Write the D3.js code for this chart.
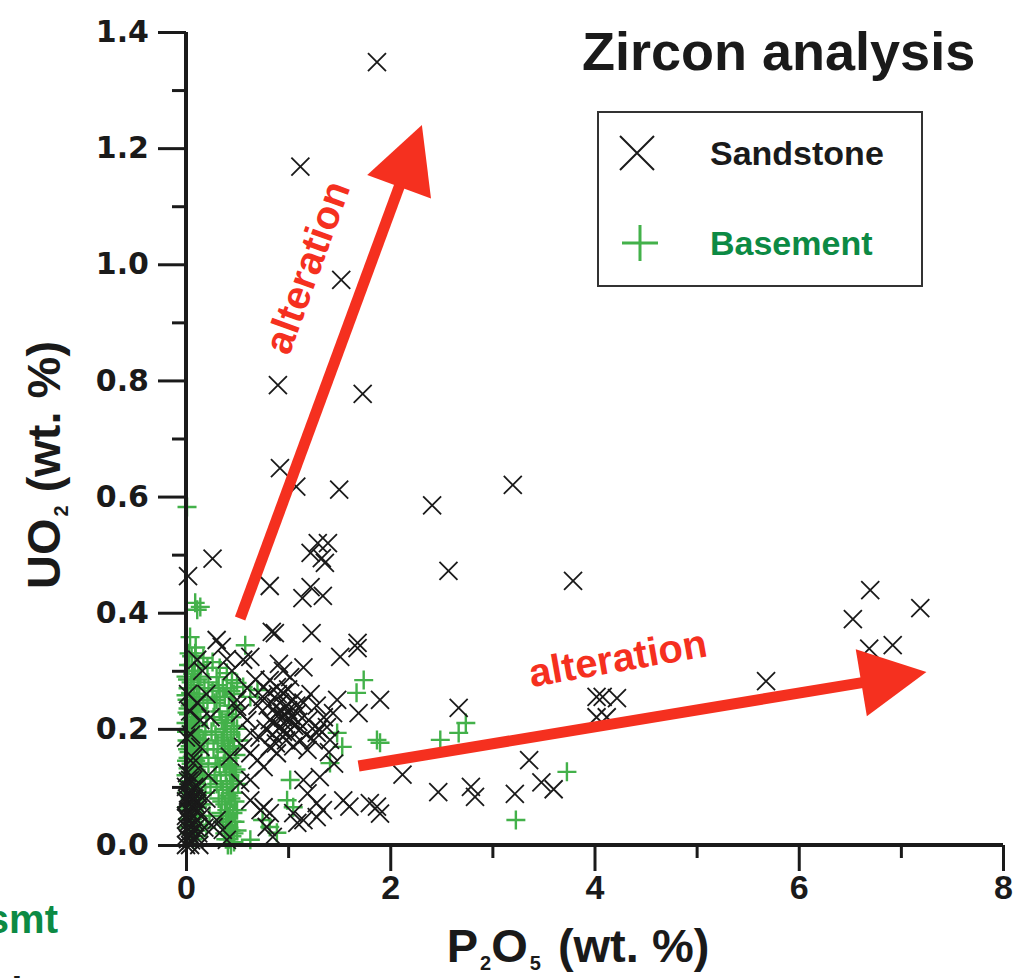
<!DOCTYPE html>
<html>
<head>
<meta charset="utf-8">
<script src="https://cdn.jsdelivr.net/npm/d3@7"></script>
<style>
  body { margin: 0; background: #fff; overflow: hidden; }
  svg text { font-family: "Liberation Sans", Arial, Helvetica, sans-serif; font-weight: bold; }
</style>
</head>
<body>
<div id="chart"></div>
<script>
// tick values
var xTicks = [0, 2, 4, 6, 8];
var xMinor = [1, 3, 5, 7];
var yTicks = [0, 0.2, 0.4, 0.6, 0.8, 1.0, 1.2, 1.4];
var yMinor = [0.1, 0.3, 0.5, 0.7, 0.9, 1.1, 1.3];

// series names
var seriesNames = ['Sandstone', 'Basement'];

// Sandstone zircons [P2O5, UO2]
var sandstone = [
  [1.87,1.348],[1.12,1.168],[1.52,0.973],[0.90,0.792],[1.73,0.777],[0.92,0.649],[1.08,0.617],[1.50,0.612],
  [2.41,0.585],[3.20,0.620],[2.57,0.472],[3.79,0.455],[0.02,0.463],[0.26,0.493],
  [1.29,0.520],[1.39,0.520],[1.22,0.503],[1.36,0.486],[1.33,0.494],[1.22,0.444],[1.14,0.425],[1.34,0.429],
  [0.82,0.446],[0.84,0.367],[0.87,0.365],[1.23,0.365],[1.68,0.348],[1.51,0.324],[1.68,0.339],
  [6.70,0.439],[7.19,0.408],[6.53,0.389],[6.69,0.338],[6.92,0.344],[5.68,0.282],
  [4.02,0.255],[4.08,0.255],[4.22,0.253],[4.02,0.220],[4.12,0.220],[2.67,0.236],[3.36,0.146],
  [2.12,0.121],[2.47,0.091],[2.79,0.100],[2.83,0.083],[3.22,0.088],[3.48,0.108],[3.60,0.096],
  [1.48,0.250],[1.44,0.227],[1.69,0.227],[1.90,0.250],[1.31,0.117],[1.54,0.077],[1.60,0.066],
  [1.80,0.072],[1.87,0.066],[1.90,0.054],[1.38,0.203],[1.28,0.193],[1.19,0.164],[1.41,0.181],
  [1.28,0.048],[1.09,0.038],[1.34,0.060],[1.28,0.072],[1.15,0.043],[1.05,0.055],
  [0.30,0.353],[0.35,0.341],[0.56,0.319],[0.63,0.324],[0.91,0.312],[0.95,0.300],[1.02,0.289],[1.15,0.306],
  [0.82,0.284],[0.89,0.272],[0.95,0.262],[0.82,0.262],[0.76,0.272],[0.89,0.227],[0.95,0.220],[1.02,0.215],
  [1.09,0.227],[0.82,0.215],[0.92,0.203],[0.99,0.193],[0.53,0.227],[0.60,0.215],[0.56,0.169],[0.63,0.158],
  [0.70,0.146],[0.76,0.134],[0.82,0.169],[0.89,0.158],[0.63,0.112],[1.15,0.112],[1.19,0.089],[0.76,0.065],
  [0.82,0.055],[0.92,0.245],[0.98,0.240],[1.05,0.250],[1.00,0.232],[0.88,0.238],[0.96,0.210],[1.06,0.205],
  [1.12,0.200],[1.18,0.190],[1.25,0.180],[1.30,0.200],[1.20,0.215],[1.12,0.180],[1.05,0.170],[0.98,0.180],
  [0.85,0.190],[0.78,0.200],[0.72,0.185],[0.70,0.240],[0.75,0.255],[1.28,0.240],[1.35,0.220],[1.40,0.160],
  [1.45,0.140],[0.68,0.285],[0.60,0.270],[0.45,0.300],[0.40,0.320],[0.50,0.250],[0.50,0.238],[0.63,0.193],
  [0.43,0.152],[0.53,0.107],[0.63,0.077],[0.73,0.060],[0.79,0.031],[0.85,0.014],[0.11,0.319],[0.14,0.169],
  [0.07,0.141],[0.11,0.077],[0.30,0.043],[0.36,0.026],[0.27,0.031],[0.40,0.009],[0.14,0.215],
  [0.90,0.260],[1.00,0.268],[1.08,0.240],[0.94,0.230],[1.03,0.222],[0.86,0.210],[1.10,0.212],[1.15,0.245],
  [0.80,0.240],[1.22,0.260],[0.95,0.195],[0.88,0.175],
  [0.00,0.000],[0.02,0.010],[0.04,0.000],[0.06,0.020],[0.01,0.030],[0.03,0.040],[0.05,0.030],[0.08,0.010],
  [0.00,0.050],[0.02,0.060],[0.04,0.070],[0.07,0.050],[0.09,0.040],[0.01,0.080],[0.03,0.090],[0.06,0.080],
  [0.10,0.070],[0.00,0.100],[0.02,0.110],[0.05,0.120],[0.08,0.100],[0.12,0.020],[0.11,0.090],[0.07,0.150],
  [0.05,0.190],[0.04,0.230],[0.15,0.050],[0.18,0.030],[0.13,0.000],[0.20,0.080],[0.22,0.120],[0.02,0.260],
  [0.11,0.245],[0.01,0.124],[0.04,0.112],[0.11,0.100],[0.16,0.300],[0.20,0.260],[0.24,0.220],[0.00,0.185],
  [0.00,0.015],[0.03,0.020],[0.05,0.008],[0.07,0.035],[0.01,0.045],[0.04,0.055],[0.06,0.065],[0.09,0.060],
  [0.02,0.085],[0.05,0.095],[0.08,0.080],[0.03,0.070],[0.00,0.075],[0.10,0.030],[0.12,0.060],[0.06,0.110]
];

// Basement zircons [P2O5, UO2]
var basement = [
  [0.01,0.582],[0.09,0.417],[0.14,0.410],[0.11,0.405],[0.04,0.358],[0.58,0.344],[0.09,0.330],
  [1.74,0.284],[1.67,0.262],[1.87,0.181],[1.90,0.176],[2.49,0.181],[2.67,0.193],[2.74,0.210],
  [1.48,0.193],[1.53,0.169],[1.41,0.141],[1.02,0.112],[0.99,0.077],[1.05,0.065],[0.75,0.043],
  [0.82,0.031],[0.89,0.021],[0.63,0.009],[3.73,0.126],[3.23,0.043],
  [0.17,0.322],[0.26,0.315],[0.21,0.305],[0.33,0.305],[0.30,0.289],[0.40,0.296],[0.45,0.284],
  [0.50,0.279],[0.56,0.272],[0.63,0.255],[0.70,0.267],
  [0.00,0.290],[0.02,0.270],[0.05,0.280],[0.08,0.260],[0.01,0.250],[0.04,0.240],[0.07,0.230],[0.10,0.220],
  [0.00,0.210],[0.03,0.200],[0.06,0.190],[0.09,0.210],[0.12,0.190],[0.01,0.180],[0.04,0.170],[0.07,0.160],
  [0.10,0.170],[0.02,0.150],[0.05,0.140],[0.08,0.130],[0.11,0.140],[0.00,0.120],[0.03,0.110],[0.06,0.100],
  [0.09,0.110],[0.12,0.100],[0.01,0.090],[0.04,0.080],[0.07,0.070],[0.10,0.080],[0.02,0.060],[0.05,0.050],
  [0.08,0.040],[0.11,0.050],[0.01,0.030],[0.04,0.020],[0.07,0.010],[0.13,0.260],[0.14,0.230],[0.15,0.150],
  [0.14,0.070],[0.06,0.310],[0.03,0.330],[0.02,0.235],[0.06,0.215],[0.03,0.160],[0.09,0.185],[0.12,0.160],
  [0.015,0.285],[0.045,0.262],[0.075,0.275],[0.105,0.255],[0.025,0.225],[0.055,0.245],[0.085,0.205],
  [0.115,0.235],[0.035,0.195],[0.065,0.175],[0.095,0.145],[0.125,0.205],[0.015,0.165],[0.045,0.125],
  [0.075,0.115],[0.105,0.125],[0.025,0.105],[0.055,0.085],[0.085,0.095],[0.115,0.065],[0.035,0.065],
  [0.065,0.045],[0.095,0.025],[0.125,0.035],[0.015,0.045],[0.045,0.035],[0.075,0.030],[0.105,0.015],
  [0.135,0.175],[0.135,0.115],[0.005,0.195],[0.005,0.145],[0.005,0.065],[0.085,0.300],[0.115,0.285],
  [0.025,0.310],[0.055,0.325],[0.095,0.340],[0.120,0.310],[0.140,0.290],
  [0.010,0.228],[0.050,0.205],[0.090,0.238],[0.030,0.178],[0.070,0.198],[0.110,0.182],[0.020,0.132],
  [0.060,0.152],[0.100,0.106],[0.040,0.096],[0.080,0.148],[0.120,0.135],[0.000,0.258],[0.065,0.295],
  [0.18,0.270],[0.20,0.220],[0.17,0.180],[0.22,0.140],[0.19,0.090],[0.23,0.050],[0.21,0.250],[0.16,0.120],
  [0.17,0.245],[0.19,0.195],[0.21,0.165],[0.18,0.115],[0.20,0.030],[0.16,0.070],[0.24,0.100],[0.22,0.280],
  [0.30,0.250],[0.36,0.270],[0.42,0.240],[0.47,0.260],[0.27,0.220],[0.33,0.230],[0.39,0.210],[0.45,0.220],
  [0.50,0.200],[0.29,0.190],[0.35,0.180],[0.41,0.170],[0.47,0.180],[0.31,0.150],[0.37,0.140],[0.43,0.150],
  [0.49,0.130],[0.28,0.120],[0.34,0.110],[0.40,0.100],[0.46,0.110],[0.32,0.080],[0.38,0.070],[0.44,0.080],
  [0.50,0.060],[0.36,0.040],[0.42,0.030],[0.47,0.020],[0.39,0.010],[0.44,0.000],[0.41,0.050],[0.45,0.040],
  [0.43,0.120],[0.38,0.160],[0.44,0.190],[0.40,0.060],[0.46,0.090],[0.42,0.010],[0.48,0.040],[0.37,0.200],
  [0.26,0.265],[0.32,0.275],[0.38,0.255],[0.44,0.265],[0.49,0.235],[0.28,0.245],[0.35,0.215],[0.41,0.225],
  [0.47,0.205],[0.25,0.195],[0.31,0.175],[0.37,0.185],[0.43,0.165],[0.49,0.155],[0.27,0.165],[0.33,0.135],
  [0.39,0.125],[0.45,0.135],[0.51,0.105],[0.30,0.105],[0.36,0.095],[0.42,0.085],[0.48,0.075],[0.34,0.055],
  [0.40,0.035],[0.46,0.055],[0.50,0.025],[0.38,0.020],[0.44,0.025],[0.41,0.000],[0.47,0.005],[0.35,0.075],
  [0.29,0.140],[0.52,0.180],[0.40,0.270],[0.46,0.240],[0.33,0.255],
  [0.43,0.060],[0.39,0.045],[0.45,0.015],[0.41,0.145],[0.47,0.125],[0.44,0.105],[0.40,0.195],[0.46,0.170]
];

// alteration arrows, in data units
var arrows = [
  { from: [0.53, 0.390], to: [2.31, 1.240] },
  { from: [1.69, 0.136], to: [7.25, 0.298] }
];
var arrowLabels = [
  { text: 'alteration', at: [1.20, 0.994], angle: -70 },
  { text: 'alteration', at: [4.23, 0.319], angle: -10 }
];

var W = 1015, H = 978;
var ink = '#1a1a1a', red = '#f5301f', green = '#43b14a', darkGreen = '#0c8a44';

var svg = d3.select('#chart').append('svg')
  .attr('width', W)
  .attr('height', H);

var x = d3.scaleLinear().domain([0, 8]).range([186, 1003]);
var y = d3.scaleLinear().domain([0, 1.4]).range([845, 32]);

// basement first, sandstone drawn over it
var crossPath = 'M-9,-9L9,9M-9,9L9,-9';
var plusPath = 'M-9.5,0H9.5M0,-9.5V9.5';

svg.append('g').selectAll('path')
  .data(basement)
  .enter()
  .append('path')
  .attr('d', plusPath)
  .attr('transform', function(d) { return 'translate(' + x(d[0]) + ',' + y(d[1]) + ')'; })
  .attr('fill', 'none')
  .attr('stroke', green)
  .attr('stroke-width', 2.4);

svg.append('g').selectAll('path')
  .data(sandstone)
  .enter()
  .append('path')
  .attr('d', crossPath)
  .attr('transform', function(d) { return 'translate(' + x(d[0]) + ',' + y(d[1]) + ')'; })
  .attr('fill', 'none')
  .attr('stroke', ink)
  .attr('stroke-width', 1.8);

// axes
function styleAxis(g) {
  g.select('.domain').remove();
  g.selectAll('line').attr('stroke', ink).attr('stroke-width', 3);
  g.selectAll('text').attr('fill', ink);
}

svg.append('g')
  .attr('transform', 'translate(186,0)')
  .call(d3.axisLeft(y).tickValues(yTicks).tickSize(28).tickPadding(9).tickFormat(d3.format('.1f')))
  .call(styleAxis)
  .selectAll('text')
  .style('font-family', '"DejaVu Sans", sans-serif')
  .style('font-size', '30px');
svg.append('g')
  .attr('transform', 'translate(186,0)')
  .call(d3.axisLeft(y).tickValues(yMinor).tickSize(14).tickFormat(''))
  .call(styleAxis);
svg.append('g')
  .attr('transform', 'translate(0,845)')
  .call(d3.axisBottom(x).tickValues(xTicks).tickSize(26).tickPadding(4).tickFormat(d3.format('d')))
  .call(styleAxis)
  .selectAll('text')
  .style('font-size', '34px');
svg.append('g')
  .attr('transform', 'translate(0,845)')
  .call(d3.axisBottom(x).tickValues(xMinor).tickSize(13).tickFormat(''))
  .call(styleAxis);

// axis lines
svg.append('path')
  .attr('d', 'M' + x(0) + ',' + y(1.4) + 'V' + y(0) + 'H' + x(8))
  .attr('fill', 'none')
  .attr('stroke', ink)
  .attr('stroke-width', 4);

// arrows
arrows.forEach(function(a) {
  var x0 = x(a.from[0]), y0 = y(a.from[1]);
  var x1 = x(a.to[0]), y1 = y(a.to[1]);
  var len = Math.hypot(x1 - x0, y1 - y0);
  var ux = (x1 - x0) / len, uy = (y1 - y0) / len;
  var hl = 66, hw = 34;
  var bx = x1 - ux * hl, by = y1 - uy * hl;
  svg.append('line')
    .attr('x1', x0).attr('y1', y0)
    .attr('x2', bx + ux * 4).attr('y2', by + uy * 4)
    .attr('stroke', red)
    .attr('stroke-width', 11);
  svg.append('polygon')
    .attr('points', [[x1, y1], [bx - uy * hw, by + ux * hw], [bx + uy * hw, by - ux * hw]].join(' '))
    .attr('fill', red);
});

svg.selectAll('.alt-label')
  .data(arrowLabels)
  .enter()
  .append('text')
  .attr('class', 'alt-label')
  .attr('transform', function(d) { return 'translate(' + x(d.at[0]) + ',' + y(d.at[1]) + ') rotate(' + d.angle + ')'; })
  .attr('text-anchor', 'middle')
  .attr('dy', '0.3em')
  .attr('fill', red)
  .style('font-size', '40px')
  .text(function(d) { return d.text; });

// axis titles
var xt = svg.append('text')
  .attr('x', 578)
  .attr('y', 962)
  .attr('text-anchor', 'middle')
  .attr('fill', ink)
  .style('font-size', '47px');
xt.append('tspan').text('P');
xt.append('tspan').attr('dx', 2).attr('dy', 8).style('font-size', '20px').text('2');
xt.append('tspan').attr('dy', -8).text('O');
xt.append('tspan').attr('dx', 2).attr('dy', 8).style('font-size', '20px').text('5');
xt.append('tspan').attr('dx', 4).attr('dy', -8).text(' (wt. %)');

var yt = svg.append('text')
  .attr('transform', 'translate(60,465) rotate(-90)')
  .attr('text-anchor', 'middle')
  .attr('fill', ink)
  .style('font-size', '47px');
yt.append('tspan').text('UO');
yt.append('tspan').attr('dx', 2).attr('dy', 8).style('font-size', '20px').text('2');
yt.append('tspan').attr('dy', -8).text(' (wt. %)');

// title
svg.append('text')
  .attr('x', 582)
  .attr('y', 70)
  .attr('fill', ink)
  .style('font-size', '54px')
  .text('Zircon analysis');

// legend
var legend = svg.append('g');
legend.append('rect')
  .attr('x', 598).attr('y', 112)
  .attr('width', 324).attr('height', 174)
  .attr('fill', '#fff')
  .attr('stroke', '#333')
  .attr('stroke-width', 2);
legend.append('path')
  .attr('d', 'M-17,-17L17,17M-17,17L17,-17')
  .attr('transform', 'translate(637,153)')
  .attr('stroke', ink).attr('stroke-width', 2).attr('fill', 'none');
legend.append('path')
  .attr('d', 'M-18,0H18M0,-18V18')
  .attr('transform', 'translate(640,243)')
  .attr('stroke', green).attr('stroke-width', 3).attr('fill', 'none');
legend.selectAll('.leg-text')
  .data(seriesNames)
  .enter()
  .append('text')
  .attr('class', 'leg-text')
  .attr('x', 710)
  .attr('y', function(d, i) { return 165 + i * 90; })
  .attr('fill', function(d, i) { return i ? darkGreen : ink; })
  .style('font-size', '34px')
  .text(function(d) { return d; });

// cut-off labels from the neighbouring panel
svg.append('text')
  .attr('x', 58).attr('y', 933)
  .attr('text-anchor', 'end')
  .attr('fill', darkGreen)
  .style('font-size', '40px')
  .text('Bsmt');
svg.append('text')
  .attr('x', 58).attr('y', 1006)
  .attr('text-anchor', 'end')
  .attr('fill', ink)
  .style('font-size', '40px')
  .text('Sdst');
</script>
</body>
</html>
